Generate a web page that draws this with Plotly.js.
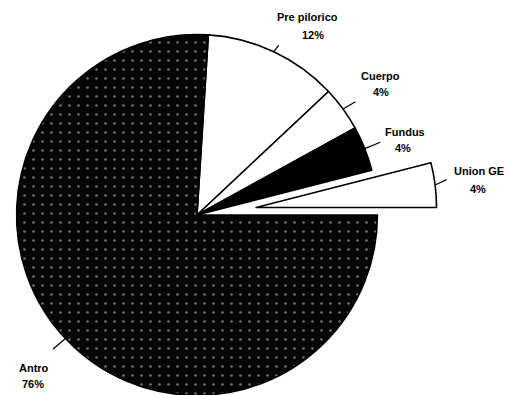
<!DOCTYPE html>
<html><head><meta charset="utf-8">
<script src="https://cdn.plot.ly/plotly-3.0.1.min.js"></script>
<style>
html,body{margin:0;padding:0;width:508px;height:395px;overflow:hidden;background:#fff;}
#chart{position:absolute;left:-43px;top:-25px;width:551px;height:480px;}
</style></head><body><div id="chart"></div>
<script>
// Data
const categories = ['Pre pilorico', 'Cuerpo', 'Fundus', 'Union GE', 'Antro'];
const percents = [12, 4, 4, 4, 76];

// Styles
const sliceColors = ['#ffffff', '#ffffff', '#000000', '#ffffff', '#050505'];
const pulls = [0, 0, 0, 0.33, 0];
const rotationDeg = 3.6;
// label offsets relative to the slice edge point (px): [lineDx, lineDy, nameDx, nameDy, pctDx, pctDy]
const labelOffsets = [
  [6, -8, 34, -35, 39, -17],
  [14, -8, 38, -33, 38, -17],
  [17, -7, 40, -17, 38, -1],
  [13, -6, 44, -14, 43, 4],
  [-14, 12, -31, 29, -32, 45]
];

const W = 551, H = 480;
const box = 480;
const maxPull = Math.max(...pulls);
const R = box / (2 + 2 * maxPull);
const cx = box / 2, cy = H / 2;
const total = percents.reduce((a, b) => a + b, 0);

const annotations = [];
const font = {family: 'Liberation Sans, Arial, sans-serif', size: 11, color: '#000'};
let cum = 0;
categories.forEach((cat, i) => {
  const v = percents[i];
  const theta = (rotationDeg + 360 * (cum + v / 2) / total) * Math.PI / 180;
  cum += v;
  const dist = R * (1 + pulls[i]);
  const px = cx + dist * Math.sin(theta);
  const py = cy - dist * Math.cos(theta);
  const xp = px / W, yp = 1 - py / H;
  const o = labelOffsets[i];
  annotations.push({xref: 'paper', yref: 'paper', x: xp, y: yp, text: '', showarrow: true,
    arrowhead: 0, arrowwidth: 1.2, arrowcolor: '#000', ax: o[0], ay: o[1], standoff: 0, startstandoff: 0});
  annotations.push({xref: 'paper', yref: 'paper', x: xp, y: yp, text: '<b>' + cat + '</b>', showarrow: false,
    xanchor: 'center', yanchor: 'middle', xshift: o[2], yshift: -o[3], font: font});
  annotations.push({xref: 'paper', yref: 'paper', x: xp, y: yp, text: '<b>' + v + '%</b>', showarrow: false,
    xanchor: 'center', yanchor: 'middle', xshift: o[4], yshift: -o[5], font: font});
});

const trace = {
  type: 'pie',
  labels: categories,
  values: percents,
  sort: false,
  direction: 'clockwise',
  rotation: rotationDeg,
  pull: pulls,
  textinfo: 'none',
  hoverinfo: 'label+percent',
  domain: {x: [0, box / W], y: [0, 1]},
  marker: {
    colors: sliceColors,
    line: {color: '#000', width: 1.6},
    pattern: {
      shape: ['', '', '', '', '.'],
      bgcolor: sliceColors,
      fgcolor: ['#000', '#000', '#fff', '#000', '#6e6e6e'],
      size: 9,
      solidity: 0.07
    }
  }
};

Plotly.newPlot('chart', [trace], {
  width: W, height: H,
  margin: {l: 0, r: 0, t: 0, b: 0},
  showlegend: false,
  paper_bgcolor: '#fff',
  annotations: annotations
}, {displayModeBar: false, staticPlot: true});
</script></body></html>
